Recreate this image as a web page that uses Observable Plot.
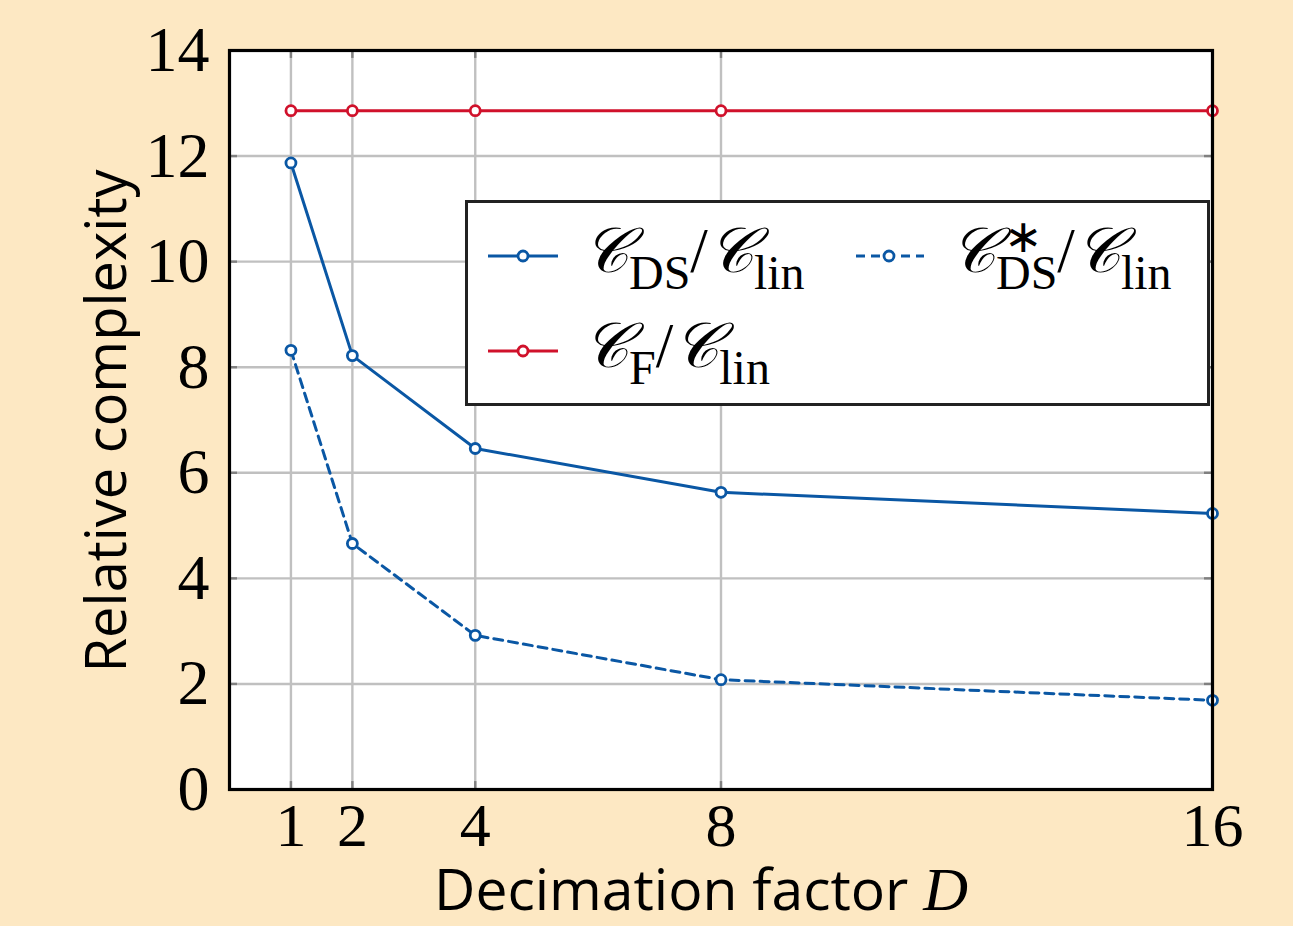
<!DOCTYPE html>
<html>
<head>
<meta charset="utf-8">
<script src="https://cdn.jsdelivr.net/npm/d3@7"></script>
<script src="https://cdn.jsdelivr.net/npm/@observablehq/plot@0.6"></script>
<style>
  html, body { margin: 0; padding: 0; background: #fde8c3; }
  #wrap { position: relative; width: 1293px; height: 926px; background: #fde8c3; overflow: hidden; }
  #wrap svg { position: absolute; left: 0; top: 0; }
  .ylab { position: absolute; left: 104px; top: 421px; transform: translate(-50%, -50%) rotate(-90deg);
          font-family: "Open Sans", sans-serif; font-size: 56px; white-space: nowrap; color: #000; line-height: 1; }
  .xlab { position: absolute; left: 701px; top: 890px; transform: translate(-50%, -50%);
          font-family: "Open Sans", sans-serif; font-size: 57px; white-space: nowrap; color: #000; line-height: 0.8; }
  .xlab i { font-family: "Liberation Serif", serif; font-size: 62px; }
  #legend { position: absolute; left: 465px; top: 200px; width: 739px; height: 200px;
            border: 3px solid #222; background: #fff; }
  .sw { position: absolute; }
  .math { position: absolute; font-family: "Liberation Serif", serif; font-size: 63px; color: #000;
          line-height: 60px; height: 60px; white-space: nowrap; }
  .math .c { font-style: italic; }
  .math .sub { font-size: 48px; position: relative; top: 17px; line-height: 1; }
  .math .ss { display: inline-block; position: relative; font-size: 48px; top: 17px; line-height: 1; }
  .ast { position: absolute; font-family: "Liberation Serif", serif; font-size: 46px; line-height: 20px; height: 20px; color: #000; }
</style>
</head>
<body>
<div id="wrap"></div>
<script>
// ---- data ----
const decimation = [1, 2, 4, 8, 16];
const cDS = [11.87, 8.22, 6.46, 5.63, 5.23];
const cDSstar = [8.32, 4.66, 2.92, 2.08, 1.69];
const cF = [12.86, 12.86, 12.86, 12.86, 12.86];
const yTicks = [0, 2, 4, 6, 8, 10, 12, 14];
const xTicks = [1, 2, 4, 8, 16];

const blue = "#0a57a4";
const red = "#d0112b";

const series = [
  {name: "DS", values: cDS, color: blue, dash: null},
  {name: "DSstar", values: cDSstar, color: blue, dash: "9,6"},
  {name: "F", values: cF, color: red, dash: null}
];
const rows = series.flatMap(s => decimation.map((d, i) => ({series: s.name, D: d, v: s.values[i], color: s.color})));

const lineMarks = series.map(s => Plot.line(rows.filter(r => r.series === s.name), {
  x: "D", y: "v", stroke: s.color, strokeWidth: 3, strokeDasharray: s.dash
}));

const chart = Plot.plot({
  width: 1293, height: 926,
  marginLeft: 229, marginRight: 81, marginTop: 50, marginBottom: 137,
  style: {background: "transparent", overflow: "visible"},
  x: {domain: [0, 16], axis: null},
  y: {domain: [0, 14], axis: null},
  marks: [
    Plot.frame({fill: "white", stroke: "none"}),
    Plot.ruleX(xTicks, {stroke: "#c0c0c0", strokeWidth: 2.4}),
    Plot.ruleY(yTicks, {stroke: "#c0c0c0", strokeWidth: 2.4}),
    // inner ticks
    Plot.ruleX(xTicks, {y1: 0, y2: 0.15, stroke: "#808080", strokeWidth: 2.4}),
    Plot.ruleX(xTicks, {y1: 13.85, y2: 14, stroke: "#808080", strokeWidth: 2.4}),
    Plot.ruleY(yTicks, {x1: 0, x2: 0.13, stroke: "#808080", strokeWidth: 2.4}),
    Plot.ruleY(yTicks, {x1: 15.87, x2: 16, stroke: "#808080", strokeWidth: 2.4}),
    ...lineMarks,
    Plot.dot(rows, {x: "D", y: "v", r: 5, fill: "white", stroke: "color", strokeWidth: 2.8}),
    Plot.frame({stroke: "#000", strokeWidth: 3.2}),
    Plot.axisX(xTicks, {tickSize: 0, tickPadding: 12, fontSize: 62, fontFamily: "Liberation Serif, serif", fill: "#000", label: null, tickFormat: d3.format("d")}),
    Plot.axisY(yTicks, {tickSize: 0, tickPadding: 20, fontSize: 64, fontFamily: "Liberation Serif, serif", fill: "#000", label: null, tickFormat: d3.format("d")})
  ]
});

const wrap = document.getElementById("wrap");
wrap.appendChild(chart);

const ylab = document.createElement("div");
ylab.className = "ylab";
ylab.textContent = "Relative complexity";
wrap.appendChild(ylab);

const xlab = document.createElement("div");
xlab.className = "xlab";
xlab.innerHTML = "Decimation factor <i>D</i>";
wrap.appendChild(xlab);

// legend
function swatch(color, dash, left, cy) {
  return `<svg class="sw" style="left:${left}px; top:${cy - 10}px" width="72" height="20"><line x1="1" y1="10" x2="71" y2="10" stroke="${color}" stroke-width="3" ${dash ? `stroke-dasharray="${dash}" stroke-dashoffset="-2"` : ""}/><circle cx="36" cy="10" r="5" fill="white" stroke="${color}" stroke-width="2.8"/></svg>`;
}
const C = `<span class="c">𝒞</span>`;
const legend = document.createElement("div");
legend.id = "legend";
legend.innerHTML = `
  ${swatch(blue, null, 19, 53)}
  <div class="math" style="left:115px; top:18px">${C}<span class="sub">DS</span>/${C}<span class="sub">lin</span></div>
  ${swatch(blue, "9,6", 385, 53)}
  <div class="math" style="left:482px; top:18px">${C}<span class="ss">DS</span>/${C}<span class="sub">lin</span></div>
  <div class="ast" style="left:536px; top:24px">∗</div>
  ${swatch(red, null, 19, 148)}
  <div class="math" style="left:115px; top:113px">${C}<span class="sub">F</span>/${C}<span class="sub">lin</span></div>
`;
wrap.appendChild(legend);
</script>
</body>
</html>
